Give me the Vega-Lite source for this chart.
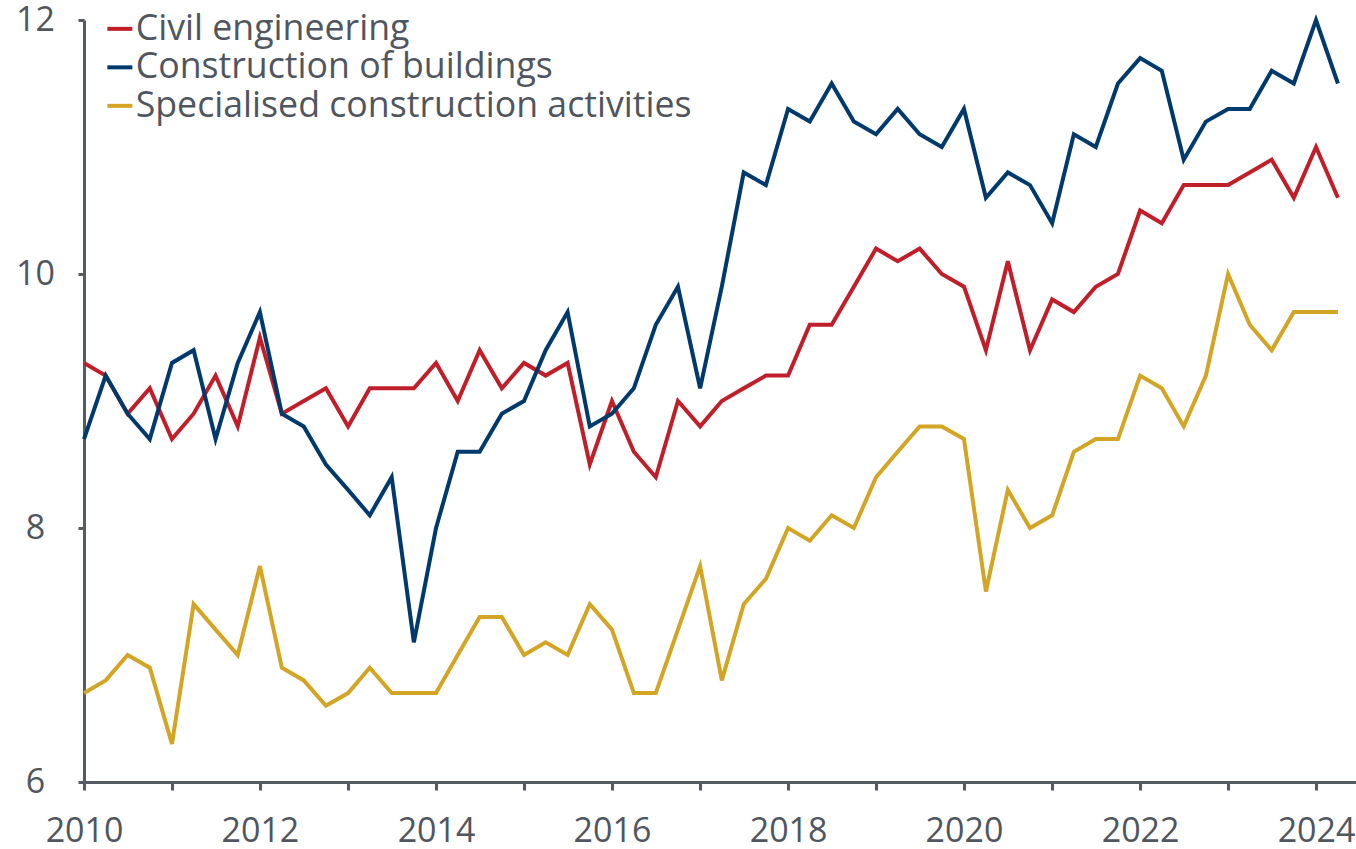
{
  "$schema": "https://vega.github.io/schema/vega-lite/v6.json",
  "width": 1272,
  "height": 762,
  "autosize": {"type": "none"},
  "padding": {"left": 84, "top": 20, "right": 0, "bottom": 67},
  "background": "white",
  "config": {"view": {"stroke": null}, "font": "Open Sans"},
  "data": {"values": [
    {"date":"2010-01-01","series":"Civil engineering","value":9.3},
    {"date":"2010-04-01","series":"Civil engineering","value":9.2},
    {"date":"2010-07-01","series":"Civil engineering","value":8.9},
    {"date":"2010-10-01","series":"Civil engineering","value":9.1},
    {"date":"2011-01-01","series":"Civil engineering","value":8.7},
    {"date":"2011-04-01","series":"Civil engineering","value":8.9},
    {"date":"2011-07-01","series":"Civil engineering","value":9.2},
    {"date":"2011-10-01","series":"Civil engineering","value":8.8},
    {"date":"2012-01-01","series":"Civil engineering","value":9.5},
    {"date":"2012-04-01","series":"Civil engineering","value":8.9},
    {"date":"2012-07-01","series":"Civil engineering","value":9.0},
    {"date":"2012-10-01","series":"Civil engineering","value":9.1},
    {"date":"2013-01-01","series":"Civil engineering","value":8.8},
    {"date":"2013-04-01","series":"Civil engineering","value":9.1},
    {"date":"2013-07-01","series":"Civil engineering","value":9.1},
    {"date":"2013-10-01","series":"Civil engineering","value":9.1},
    {"date":"2014-01-01","series":"Civil engineering","value":9.3},
    {"date":"2014-04-01","series":"Civil engineering","value":9.0},
    {"date":"2014-07-01","series":"Civil engineering","value":9.4},
    {"date":"2014-10-01","series":"Civil engineering","value":9.1},
    {"date":"2015-01-01","series":"Civil engineering","value":9.3},
    {"date":"2015-04-01","series":"Civil engineering","value":9.2},
    {"date":"2015-07-01","series":"Civil engineering","value":9.3},
    {"date":"2015-10-01","series":"Civil engineering","value":8.5},
    {"date":"2016-01-01","series":"Civil engineering","value":9.0},
    {"date":"2016-04-01","series":"Civil engineering","value":8.6},
    {"date":"2016-07-01","series":"Civil engineering","value":8.4},
    {"date":"2016-10-01","series":"Civil engineering","value":9.0},
    {"date":"2017-01-01","series":"Civil engineering","value":8.8},
    {"date":"2017-04-01","series":"Civil engineering","value":9.0},
    {"date":"2017-07-01","series":"Civil engineering","value":9.1},
    {"date":"2017-10-01","series":"Civil engineering","value":9.2},
    {"date":"2018-01-01","series":"Civil engineering","value":9.2},
    {"date":"2018-04-01","series":"Civil engineering","value":9.6},
    {"date":"2018-07-01","series":"Civil engineering","value":9.6},
    {"date":"2018-10-01","series":"Civil engineering","value":9.9},
    {"date":"2019-01-01","series":"Civil engineering","value":10.2},
    {"date":"2019-04-01","series":"Civil engineering","value":10.1},
    {"date":"2019-07-01","series":"Civil engineering","value":10.2},
    {"date":"2019-10-01","series":"Civil engineering","value":10.0},
    {"date":"2020-01-01","series":"Civil engineering","value":9.9},
    {"date":"2020-04-01","series":"Civil engineering","value":9.4},
    {"date":"2020-07-01","series":"Civil engineering","value":10.1},
    {"date":"2020-10-01","series":"Civil engineering","value":9.4},
    {"date":"2021-01-01","series":"Civil engineering","value":9.8},
    {"date":"2021-04-01","series":"Civil engineering","value":9.7},
    {"date":"2021-07-01","series":"Civil engineering","value":9.9},
    {"date":"2021-10-01","series":"Civil engineering","value":10.0},
    {"date":"2022-01-01","series":"Civil engineering","value":10.5},
    {"date":"2022-04-01","series":"Civil engineering","value":10.4},
    {"date":"2022-07-01","series":"Civil engineering","value":10.7},
    {"date":"2022-10-01","series":"Civil engineering","value":10.7},
    {"date":"2023-01-01","series":"Civil engineering","value":10.7},
    {"date":"2023-04-01","series":"Civil engineering","value":10.8},
    {"date":"2023-07-01","series":"Civil engineering","value":10.9},
    {"date":"2023-10-01","series":"Civil engineering","value":10.6},
    {"date":"2024-01-01","series":"Civil engineering","value":11.0},
    {"date":"2024-04-01","series":"Civil engineering","value":10.6},

    {"date":"2010-01-01","series":"Construction of buildings","value":8.7},
    {"date":"2010-04-01","series":"Construction of buildings","value":9.2},
    {"date":"2010-07-01","series":"Construction of buildings","value":8.9},
    {"date":"2010-10-01","series":"Construction of buildings","value":8.7},
    {"date":"2011-01-01","series":"Construction of buildings","value":9.3},
    {"date":"2011-04-01","series":"Construction of buildings","value":9.4},
    {"date":"2011-07-01","series":"Construction of buildings","value":8.7},
    {"date":"2011-10-01","series":"Construction of buildings","value":9.3},
    {"date":"2012-01-01","series":"Construction of buildings","value":9.7},
    {"date":"2012-04-01","series":"Construction of buildings","value":8.9},
    {"date":"2012-07-01","series":"Construction of buildings","value":8.8},
    {"date":"2012-10-01","series":"Construction of buildings","value":8.5},
    {"date":"2013-01-01","series":"Construction of buildings","value":8.3},
    {"date":"2013-04-01","series":"Construction of buildings","value":8.1},
    {"date":"2013-07-01","series":"Construction of buildings","value":8.4},
    {"date":"2013-10-01","series":"Construction of buildings","value":7.1},
    {"date":"2014-01-01","series":"Construction of buildings","value":8.0},
    {"date":"2014-04-01","series":"Construction of buildings","value":8.6},
    {"date":"2014-07-01","series":"Construction of buildings","value":8.6},
    {"date":"2014-10-01","series":"Construction of buildings","value":8.9},
    {"date":"2015-01-01","series":"Construction of buildings","value":9.0},
    {"date":"2015-04-01","series":"Construction of buildings","value":9.4},
    {"date":"2015-07-01","series":"Construction of buildings","value":9.7},
    {"date":"2015-10-01","series":"Construction of buildings","value":8.8},
    {"date":"2016-01-01","series":"Construction of buildings","value":8.9},
    {"date":"2016-04-01","series":"Construction of buildings","value":9.1},
    {"date":"2016-07-01","series":"Construction of buildings","value":9.6},
    {"date":"2016-10-01","series":"Construction of buildings","value":9.9},
    {"date":"2017-01-01","series":"Construction of buildings","value":9.1},
    {"date":"2017-04-01","series":"Construction of buildings","value":9.9},
    {"date":"2017-07-01","series":"Construction of buildings","value":10.8},
    {"date":"2017-10-01","series":"Construction of buildings","value":10.7},
    {"date":"2018-01-01","series":"Construction of buildings","value":11.3},
    {"date":"2018-04-01","series":"Construction of buildings","value":11.2},
    {"date":"2018-07-01","series":"Construction of buildings","value":11.5},
    {"date":"2018-10-01","series":"Construction of buildings","value":11.2},
    {"date":"2019-01-01","series":"Construction of buildings","value":11.1},
    {"date":"2019-04-01","series":"Construction of buildings","value":11.3},
    {"date":"2019-07-01","series":"Construction of buildings","value":11.1},
    {"date":"2019-10-01","series":"Construction of buildings","value":11.0},
    {"date":"2020-01-01","series":"Construction of buildings","value":11.3},
    {"date":"2020-04-01","series":"Construction of buildings","value":10.6},
    {"date":"2020-07-01","series":"Construction of buildings","value":10.8},
    {"date":"2020-10-01","series":"Construction of buildings","value":10.7},
    {"date":"2021-01-01","series":"Construction of buildings","value":10.4},
    {"date":"2021-04-01","series":"Construction of buildings","value":11.1},
    {"date":"2021-07-01","series":"Construction of buildings","value":11.0},
    {"date":"2021-10-01","series":"Construction of buildings","value":11.5},
    {"date":"2022-01-01","series":"Construction of buildings","value":11.7},
    {"date":"2022-04-01","series":"Construction of buildings","value":11.6},
    {"date":"2022-07-01","series":"Construction of buildings","value":10.9},
    {"date":"2022-10-01","series":"Construction of buildings","value":11.2},
    {"date":"2023-01-01","series":"Construction of buildings","value":11.3},
    {"date":"2023-04-01","series":"Construction of buildings","value":11.3},
    {"date":"2023-07-01","series":"Construction of buildings","value":11.6},
    {"date":"2023-10-01","series":"Construction of buildings","value":11.5},
    {"date":"2024-01-01","series":"Construction of buildings","value":12.0},
    {"date":"2024-04-01","series":"Construction of buildings","value":11.5},

    {"date":"2010-01-01","series":"Specialised construction activities","value":6.7},
    {"date":"2010-04-01","series":"Specialised construction activities","value":6.8},
    {"date":"2010-07-01","series":"Specialised construction activities","value":7.0},
    {"date":"2010-10-01","series":"Specialised construction activities","value":6.9},
    {"date":"2011-01-01","series":"Specialised construction activities","value":6.3},
    {"date":"2011-04-01","series":"Specialised construction activities","value":7.4},
    {"date":"2011-07-01","series":"Specialised construction activities","value":7.2},
    {"date":"2011-10-01","series":"Specialised construction activities","value":7.0},
    {"date":"2012-01-01","series":"Specialised construction activities","value":7.7},
    {"date":"2012-04-01","series":"Specialised construction activities","value":6.9},
    {"date":"2012-07-01","series":"Specialised construction activities","value":6.8},
    {"date":"2012-10-01","series":"Specialised construction activities","value":6.6},
    {"date":"2013-01-01","series":"Specialised construction activities","value":6.7},
    {"date":"2013-04-01","series":"Specialised construction activities","value":6.9},
    {"date":"2013-07-01","series":"Specialised construction activities","value":6.7},
    {"date":"2013-10-01","series":"Specialised construction activities","value":6.7},
    {"date":"2014-01-01","series":"Specialised construction activities","value":6.7},
    {"date":"2014-04-01","series":"Specialised construction activities","value":7.0},
    {"date":"2014-07-01","series":"Specialised construction activities","value":7.3},
    {"date":"2014-10-01","series":"Specialised construction activities","value":7.3},
    {"date":"2015-01-01","series":"Specialised construction activities","value":7.0},
    {"date":"2015-04-01","series":"Specialised construction activities","value":7.1},
    {"date":"2015-07-01","series":"Specialised construction activities","value":7.0},
    {"date":"2015-10-01","series":"Specialised construction activities","value":7.4},
    {"date":"2016-01-01","series":"Specialised construction activities","value":7.2},
    {"date":"2016-04-01","series":"Specialised construction activities","value":6.7},
    {"date":"2016-07-01","series":"Specialised construction activities","value":6.7},
    {"date":"2016-10-01","series":"Specialised construction activities","value":7.2},
    {"date":"2017-01-01","series":"Specialised construction activities","value":7.7},
    {"date":"2017-04-01","series":"Specialised construction activities","value":6.8},
    {"date":"2017-07-01","series":"Specialised construction activities","value":7.4},
    {"date":"2017-10-01","series":"Specialised construction activities","value":7.6},
    {"date":"2018-01-01","series":"Specialised construction activities","value":8.0},
    {"date":"2018-04-01","series":"Specialised construction activities","value":7.9},
    {"date":"2018-07-01","series":"Specialised construction activities","value":8.1},
    {"date":"2018-10-01","series":"Specialised construction activities","value":8.0},
    {"date":"2019-01-01","series":"Specialised construction activities","value":8.4},
    {"date":"2019-04-01","series":"Specialised construction activities","value":8.6},
    {"date":"2019-07-01","series":"Specialised construction activities","value":8.8},
    {"date":"2019-10-01","series":"Specialised construction activities","value":8.8},
    {"date":"2020-01-01","series":"Specialised construction activities","value":8.7},
    {"date":"2020-04-01","series":"Specialised construction activities","value":7.5},
    {"date":"2020-07-01","series":"Specialised construction activities","value":8.3},
    {"date":"2020-10-01","series":"Specialised construction activities","value":8.0},
    {"date":"2021-01-01","series":"Specialised construction activities","value":8.1},
    {"date":"2021-04-01","series":"Specialised construction activities","value":8.6},
    {"date":"2021-07-01","series":"Specialised construction activities","value":8.7},
    {"date":"2021-10-01","series":"Specialised construction activities","value":8.7},
    {"date":"2022-01-01","series":"Specialised construction activities","value":9.2},
    {"date":"2022-04-01","series":"Specialised construction activities","value":9.1},
    {"date":"2022-07-01","series":"Specialised construction activities","value":8.8},
    {"date":"2022-10-01","series":"Specialised construction activities","value":9.2},
    {"date":"2023-01-01","series":"Specialised construction activities","value":10.0},
    {"date":"2023-04-01","series":"Specialised construction activities","value":9.6},
    {"date":"2023-07-01","series":"Specialised construction activities","value":9.4},
    {"date":"2023-10-01","series":"Specialised construction activities","value":9.7},
    {"date":"2024-01-01","series":"Specialised construction activities","value":9.7},
    {"date":"2024-04-01","series":"Specialised construction activities","value":9.7}
  ]},
  "mark": {"type": "line", "strokeWidth": 4, "clip": false},
  "encoding": {
    "x": {
      "field": "date",
      "type": "temporal",
      "scale": {
        "type": "utc",
        "domain": [
          {"year": 2010, "month": 1, "date": 1, "utc": true},
          {"year": 2024, "month": 6, "date": 15, "utc": true}
        ]
      },
      "axis": {
        "title": null,
        "grid": false,
        "values": [
          {"year": 2010, "utc": true}, {"year": 2011, "utc": true}, {"year": 2012, "utc": true},
          {"year": 2013, "utc": true}, {"year": 2014, "utc": true}, {"year": 2015, "utc": true},
          {"year": 2016, "utc": true}, {"year": 2017, "utc": true}, {"year": 2018, "utc": true},
          {"year": 2019, "utc": true}, {"year": 2020, "utc": true}, {"year": 2021, "utc": true},
          {"year": 2022, "utc": true}, {"year": 2023, "utc": true}, {"year": 2024, "utc": true}
        ],
        "labelExpr": "utcyear(datum.value) % 2 == 0 ? utcFormat(datum.value, '%Y') : ''",
        "labelFlush": false,
        "labelOverlap": false,
        "labelFontSize": 34,
        "labelColor": "#4f5660",
        "labelPadding": 24,
        "tickSize": 8,
        "tickWidth": 3,
        "tickColor": "#545b63",
        "domainColor": "#545b63",
        "domainWidth": 3
      }
    },
    "y": {
      "field": "value",
      "type": "quantitative",
      "scale": {"domain": [6, 12], "nice": false, "zero": false},
      "axis": {
        "title": null,
        "grid": false,
        "values": [6, 8, 10, 12],
        "labelFontSize": 34,
        "labelColor": "#4f5660",
        "labelAlign": "center",
        "labelBaseline": "middle",
        "labelPadding": 43,
        "labelFlush": false,
        "tickSize": 6,
        "tickWidth": 3,
        "tickColor": "#545b63",
        "domainColor": "#545b63",
        "domainWidth": 3
      }
    },
    "color": {
      "field": "series",
      "type": "nominal",
      "scale": {
        "domain": ["Civil engineering", "Construction of buildings", "Specialised construction activities"],
        "range": ["#c01f2a", "#003a6c", "#d4a524"]
      },
      "legend": {
        "title": null,
        "orient": "none",
        "legendX": 18,
        "legendY": -9,
        "padding": 0,
        "symbolType": "stroke",
        "symbolSize": 625,
        "symbolStrokeWidth": 4,
        "labelFontSize": 35.7,
        "labelColor": "#4f5660",
        "labelOffset": -2,
        "rowPadding": 1.5,
        "labelLimit": 1000
      }
    }
  }
}
